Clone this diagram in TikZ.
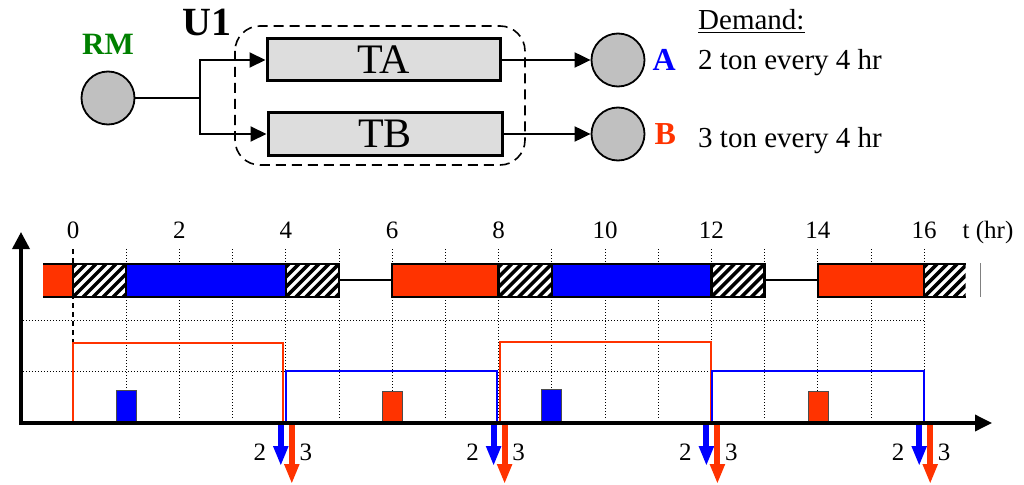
\documentclass[tikz,border=0pt]{standalone}
\usepackage{fontspec}
\setmainfont{Liberation Serif}
\usetikzlibrary{positioning, arrows.meta}
\definecolor{prodB}{HTML}{FF3300}
\definecolor{prodA}{HTML}{0000FF}
\definecolor{rmgreen}{HTML}{008000}
\definecolor{taskgray}{HTML}{DDDDDD}
\definecolor{storegray}{HTML}{C0C0C0}

\tikzset{
  store/.style={draw, circle, fill=storegray, line width=1.8pt, minimum size=53pt, inner sep=0pt},
  task/.style={draw, fill=taskgray, line width=3pt, minimum height=42pt, font=\fontsize{42}{42}\selectfont, inner sep=0pt},
  flow/.style={line width=2pt, -{Triangle[length=16pt,width=15pt]}},
  tick/.style={font=\fontsize{25}{25}\selectfont, anchor=base, inner sep=0pt},
  txt/.style={font=\fontsize{29}{29}\selectfont, anchor=base west, inner sep=0pt},
  bigbold/.style={font=\fontsize{#1}{#1}\selectfont\bfseries, inner sep=0pt},
  grid/.style={dotted, line width=1pt},
  barline/.style={line width=2.5pt},
  stock/.style={line width=2pt},
  lot/.style={draw=black!70, line width=1pt},
  demand/.style={line width=6pt, -{Triangle[length=20pt,width=14pt]}}
}

% hatched (changeover) cell of the bar, t from #1 to #2
\newcommand{\hatchcell}[2]{%
  \begin{scope}
    \clip (#1,264) rectangle (#2,297);
    \foreach \k in {-4,...,6}
      \draw[line width=3.5pt] ([xshift=\k*10pt]#1,297) -- ++(33pt,33pt);
  \end{scope}}

\begin{document}
\begin{tikzpicture}[x=1pt, y=-1pt]
    \useasboundingbox (0,0) rectangle (1024,484);

    %network
    \node (rm) [store] at (108,98) {};
    \node (rmlab) [bigbold=31, text=rmgreen] at (108,44) {RM};
    \node (ta) [task, minimum width=233pt] at (383.5,60) {TA};
    \node (tb) [task, minimum width=234pt] at (385,134) {TB};
    \node (a) [store] at (618,60) {};
    \node (b) [store] at (618,134) {};
    \node (alab) [bigbold=32, text=prodA, right=7pt of a] {A};
    \node (blab) [bigbold=32, text=prodB, right=9pt of b] {B};
    \coordinate (split) at (200,98);

    \draw[line width=2pt] (rm) -- (split);
    \draw[flow] (split) |- (ta);
    \draw[flow] (split) |- (tb);
    \draw[flow] (ta) -- (a);
    \draw[flow] (tb) -- (b);

    \draw[line width=1.6pt, dash pattern=on 10pt off 6pt, rounded corners=25pt]
        (235,26) rectangle (525,165);
    \node (u1) [bigbold=40] at (207,22) {U1};

    %demand
    \node (dem) [txt] at (698,30) {\underline{Demand:}};
    \node (dema) [txt] at (698,70) {2 ton every 4 hr};
    \node (demb) [txt] at (698,147) {3 ton every 4 hr};

    %schedule, one unit of x is 1 hr
    \begin{scope}[xshift=73pt, x=53.2pt]
        \foreach \h in {1,...,16}
            \draw[grid] (\h,249) -- (\h,418);
        \draw[grid] (-0.94,320) -- (16,320);
        \draw[grid] (-0.94,371) -- (16,371);
        \draw[line width=1.2pt, dash pattern=on 5pt off 4pt] (0,249) -- (0,343);

        \foreach \h in {0,2,...,16}
            \node[tick] at (\h,238) {\h};
        \node (thr) [tick, anchor=base west] at (16.72,238) {t (hr)};

        %bar
        \draw[line width=1.5pt] (5,280) -- (6,280);
        \draw[line width=1.5pt] (13,280) -- (14,280);
        \fill[prodB] (-0.56,264) rectangle (0,297);
        \draw[barline] (-0.56,264) -- (0,264) (-0.56,297) -- (0,297);
        \draw[barline, fill=prodA] (1,264) rectangle (4,297);
        \draw[barline, fill=prodB] (6,264) rectangle (8,297);
        \draw[barline, fill=prodA] (9,264) rectangle (12,297);
        \draw[barline, fill=prodB] (14,264) rectangle (16,297);
        \foreach \s/\e in {0/1, 4/5, 8/9, 12/13} {
            \hatchcell{\s}{\e}
            \draw[barline] (\s,264) rectangle (\e,297);
        }
        \hatchcell{16}{16.78}
        \draw[barline] (16.78,264) -- (16,264) -- (16,297) -- (16.78,297);
        \draw[black!50, line width=1pt] (17.05,263) -- (17.05,297);

        %inventory
        \draw[stock, prodB] (0,423) -- (0,343) -- (3.94,343) -- (3.94,423);
        \draw[stock, prodB] (8.03,423) -- (8.03,342) -- (11.99,342) -- (11.99,423);
        \draw[stock, prodA] (4,423) -- (4,371) -- (7.97,371) -- (7.97,423);
        \draw[stock, prodA] (12.01,423) -- (12.01,371) -- (16,371) -- (16,423);

        %batches
        \draw[lot, fill=prodA] (0.81,390) rectangle (1.19,423);
        \draw[lot, fill=prodB] (5.81,391) rectangle (6.19,423);
        \draw[lot, fill=prodA] (8.81,389) rectangle (9.19,423);
        \draw[lot, fill=prodB] (13.83,391) rectangle (14.21,423);

        %demand arrows
        \foreach \h in {4,8,12,16} {
            \draw[demand, prodA] ([xshift=-5pt]\h,421) -- ([xshift=-5pt]\h,466);
            \draw[demand, prodB] ([xshift=6pt]\h,421) -- ([xshift=6pt]\h,484);
            \node[tick] at ([xshift=-26pt]\h,460) {2};
            \node[tick] at ([xshift=20pt]\h,460) {3};
        }
    \end{scope}

    %axes
    \coordinate (origin) at (19,423);
    \draw[line width=3.5pt, -{Triangle[length=17pt,width=17pt]}] (21,425) -- (21,232);
    \draw[line width=3.5pt, -{Triangle[length=17pt,width=16pt]}] (origin) -- (992,423);
\end{tikzpicture}
\end{document}
